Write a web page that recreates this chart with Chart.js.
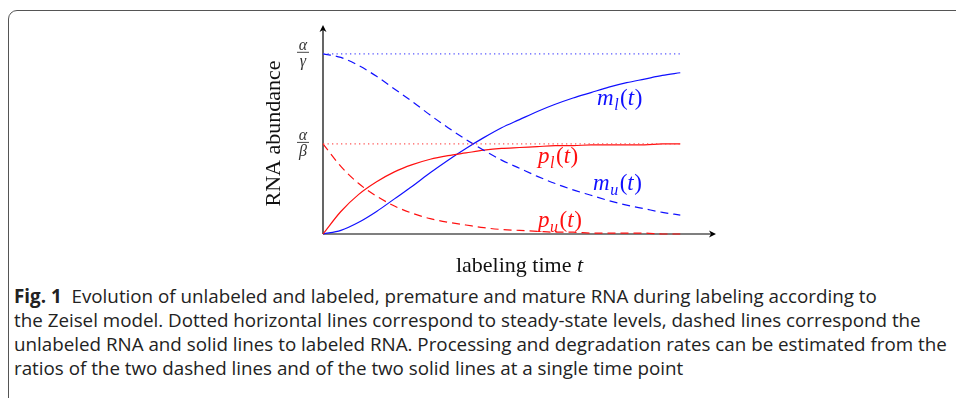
<!DOCTYPE html>
<html>
<head>
<meta charset="utf-8">
<script src="https://cdn.jsdelivr.net/npm/chart.js@4"></script>
<style>
  html, body { margin: 0; padding: 0; background: #fff; }
  body { width: 956px; height: 398px; position: relative; overflow: hidden; }
  #box {
    position: absolute; left: 8px; top: 10px; width: 1000px; height: 420px;
    border: 1px solid #555; border-radius: 9px; box-sizing: border-box;
  }
  #wrap { position: absolute; left: 0; top: 0; width: 956px; height: 280px; }
  #caption {
    position: absolute; left: 14px; top: 284px;
    font-family: "Open Sans", Lato, sans-serif; font-size: 18.8px; line-height: 24px;
    color: #222; white-space: nowrap;
  }
  #caption b { font-weight: 700; margin-right: 5px; }
</style>
</head>
<body>
<div id="box"></div>
<div id="wrap"><canvas id="myChart"></canvas></div>
<div id="caption">
  <b>Fig. 1</b> Evolution of unlabeled and labeled, premature and mature RNA during labeling according to<br>
  the Zeisel model. Dotted horizontal lines correspond to steady-state levels, dashed lines correspond the<br>
  unlabeled RNA and solid lines to labeled RNA. Processing and degradation rates can be estimated from the<br>
  ratios of the two dashed lines and of the two solid lines at a single time point
</div>
<script>
// labeling time (arbitrary units)
const times = [0, 0.5, 1, 1.5, 2, 2.5, 3, 3.5, 4, 4.5, 5, 5.5, 6, 6.5, 7, 7.5, 8, 8.5, 9, 9.5, 10];
// abundance in units of alpha/beta
const matureLabeled   = [0, 0.04, 0.13, 0.25, 0.39, 0.53, 0.68, 0.82, 0.95, 1.07, 1.18, 1.27, 1.36, 1.44, 1.51, 1.57, 1.63, 1.68, 1.72, 1.76, 1.79];
const matureUnlabeled = [2.00, 1.96, 1.87, 1.75, 1.61, 1.47, 1.32, 1.18, 1.05, 0.93, 0.82, 0.73, 0.64, 0.56, 0.49, 0.43, 0.37, 0.32, 0.28, 0.24, 0.21];
const preLabeled      = [0, 0.25, 0.44, 0.58, 0.69, 0.77, 0.83, 0.87, 0.90, 0.93, 0.95, 0.96, 0.97, 0.98, 0.98, 0.99, 0.99, 0.99, 0.99, 1.00, 1.00];
const preUnlabeled    = [1.00, 0.75, 0.56, 0.42, 0.31, 0.23, 0.17, 0.13, 0.10, 0.07, 0.05, 0.04, 0.03, 0.02, 0.02, 0.01, 0.01, 0.01, 0.01, 0.00, 0.00];
// steady-state levels (alpha/gamma, alpha/beta)
const steadyLevels = [2, 1];
const yTickNum = ['α', 'α'];
const yTickDen = ['γ', 'β'];

const BLUE = '#1010ff';
const RED = '#ff1010';

const pts = arr => arr.map((v, i) => ({x: times[i], y: v}));
const flat = level => [{x: times[0], y: level}, {x: times[times.length - 1], y: level}];

const serif = '"Liberation Serif", "DejaVu Serif", serif';

function drawMath(ctx, x, y, parts, color) {
    // parts: [text, italic, size, dy, extra]
    ctx.fillStyle = color;
    ctx.textBaseline = 'alphabetic';
    ctx.textAlign = 'left';
    let cx = x;
    parts.forEach(p => {
        ctx.font = (p[1] ? 'italic ' : '') + p[2] + 'px ' + serif;
        ctx.fillText(p[0], cx, y + (p[3] || 0));
        cx += ctx.measureText(p[0]).width + (p[4] || 0);
    });
}

const decorations = {
    id: 'decorations',
    beforeDatasetsDraw(chart) {
        const {ctx, chartArea: a, scales: {x, y}} = chart;
        ctx.save();
        ctx.strokeStyle = '#000';
        ctx.fillStyle = '#000';
        ctx.lineWidth = 1.2;
        const x0 = x.getPixelForValue(0), y0 = y.getPixelForValue(0);
        ctx.beginPath();
        ctx.moveTo(x0, y0); ctx.lineTo(a.right - 2, y0);
        ctx.moveTo(x0, y0); ctx.lineTo(x0, a.top + 2);
        ctx.stroke();
        // arrow heads
        ctx.beginPath();
        ctx.moveTo(a.right, y0); ctx.lineTo(a.right - 7, y0 - 3.5); ctx.lineTo(a.right - 5, y0); ctx.lineTo(a.right - 7, y0 + 3.5); ctx.closePath();
        ctx.moveTo(x0, a.top); ctx.lineTo(x0 - 3.5, a.top + 7); ctx.lineTo(x0, a.top + 5); ctx.lineTo(x0 + 3.5, a.top + 7); ctx.closePath();
        ctx.fill();
        ctx.restore();
    },
    afterDatasetsDraw(chart) {
        const {ctx, chartArea: a, scales: {x, y}} = chart;
        ctx.save();
        // y tick fractions
        ctx.textAlign = 'center';
        ctx.fillStyle = '#333';
        steadyLevels.forEach((lv, i) => {
            const py = y.getPixelForValue(lv) - 1.5;
            const px = x.getPixelForValue(0) - 20;
            ctx.font = 'italic 16px ' + serif;
            ctx.textBaseline = 'alphabetic';
            ctx.fillText(yTickNum[i], px, py - 2.5);
            ctx.textBaseline = 'top';
            ctx.fillText(yTickDen[i], px, py + 1.5);
            ctx.fillRect(px - 6, py - 0.5, 12, 0.9);
        });
        // axis titles
        ctx.fillStyle = '#111';
        ctx.textBaseline = 'middle';
        ctx.save();
        ctx.translate(274, (a.top + a.bottom) / 2 + 4);
        ctx.rotate(-Math.PI / 2);
        ctx.font = '22px ' + serif;
        ctx.textAlign = 'center';
        ctx.fillText('RNA abundance', 0, 0);
        ctx.restore();
        const t1 = 'labeling time ';
        ctx.font = '22px ' + serif;
        const w1 = ctx.measureText(t1).width;
        ctx.font = 'italic 22px ' + serif;
        const w2 = ctx.measureText('t').width;
        const sx = (a.left + a.right) / 2 - (w1 + w2) / 2;
        ctx.textAlign = 'left';
        ctx.font = '22px ' + serif;
        ctx.fillText(t1, sx, 266);
        ctx.font = 'italic 22px ' + serif;
        ctx.fillText('t', sx + w1, 266);
        // curve labels
        const lab = (name, sub) => [[name, true, 23, 0, 0.5], [sub, true, 16, 5, 1.5], ['(', false, 23], ['t', true, 23, 0, 0.5], [')', false, 23]];
        drawMath(ctx, x.getPixelForValue(7.67), y.getPixelForValue(1.43), lab('m', 'l'), BLUE);
        drawMath(ctx, x.getPixelForValue(6.02), y.getPixelForValue(0.79), lab('p', 'l'), RED);
        drawMath(ctx, x.getPixelForValue(7.56), y.getPixelForValue(0.49), lab('m', 'u'), BLUE);
        drawMath(ctx, x.getPixelForValue(6.02), y.getPixelForValue(0.08), lab('p', 'u'), RED);
        ctx.restore();
    }
};

const common = {pointRadius: 0, borderWidth: 1.2, fill: false, clip: false, cubicInterpolationMode: 'monotone'};

new Chart(document.getElementById('myChart'), {
    type: 'line',
    data: {
        datasets: [
            {...common, label: 'alpha/gamma', data: flat(steadyLevels[0]), borderColor: 'rgba(70,70,255,0.9)', borderWidth: 1.3, borderDash: [1.3, 3.2]},
            {...common, label: 'alpha/beta', data: flat(steadyLevels[1]), borderColor: 'rgba(255,70,70,0.9)', borderWidth: 1.3, borderDash: [1.3, 3.2]},
            {...common, label: 'p_u(t)', data: pts(preUnlabeled), borderColor: RED, borderDash: [8, 5]},
            {...common, label: 'm_u(t)', data: pts(matureUnlabeled), borderColor: BLUE, borderDash: [8, 5]},
            {...common, label: 'p_l(t)', data: pts(preLabeled), borderColor: RED},
            {...common, label: 'm_l(t)', data: pts(matureLabeled), borderColor: BLUE}
        ]
    },
    options: {
        responsive: true,
        maintainAspectRatio: false,
        animation: false,
        layout: {padding: {left: 323, top: 25, right: 240, bottom: 46}},
        plugins: {legend: {display: false}, tooltip: {enabled: false}},
        scales: {
            x: {type: 'linear', min: 0, max: 11, display: false},
            y: {type: 'linear', min: 0, max: 2.32, display: false}
        }
    },
    plugins: [decorations]
});
</script>
</body>
</html>
